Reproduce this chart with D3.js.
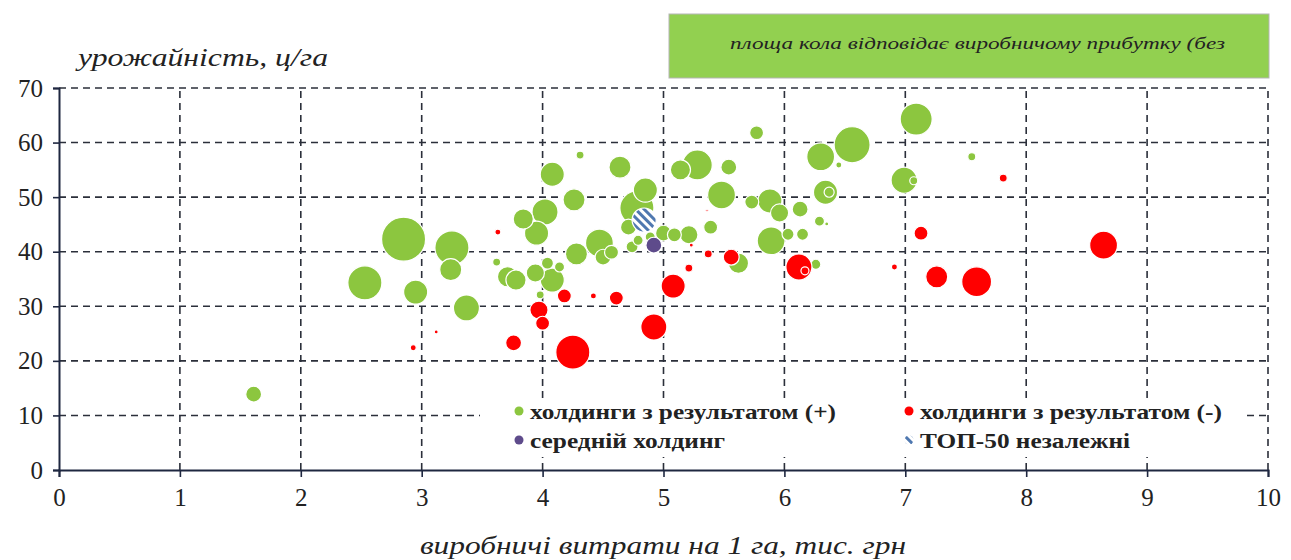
<!DOCTYPE html>
<html>
<head>
<meta charset="utf-8">
<script src="https://cdn.jsdelivr.net/npm/d3@7"></script>
<style>
  body { margin: 0; background: #fff; }
  svg { display: block; }
  text { font-family: "Liberation Serif", "Times New Roman", serif; fill: #222; }
</style>
</head>
<body>
<svg id="chart"></svg>
<script>
// chart data: [cost per ha (тис. грн), yield (ц/га), profit size]
const positive = [
  [1.61, 13.9, 13], [2.53, 34.3, 60], [2.85, 42.3, 100], [2.95, 32.6, 30], [3.25, 40.7, 60],
  [3.24, 36.7, 25], [3.37, 29.7, 35], [3.62, 38.1, 3.3], [3.71, 35.4, 21], [3.78, 34.8, 21],
  [3.84, 46.0, 21], [3.95, 43.4, 30], [4.02, 47.3, 35], [4.08, 54.2, 30], [3.94, 36.1, 17],
  [4.04, 37.9, 7.4], [4.14, 37.2, 5.2], [4.08, 34.8, 30], [3.98, 32.1, 3.3], [4.31, 57.7, 3.3],
  [4.26, 49.5, 25], [4.28, 39.6, 25], [4.47, 41.6, 40], [4.50, 39.0, 13], [4.57, 39.9, 10],
  [4.64, 55.5, 25], [4.78, 48.0, 60], [4.85, 51.3, 30], [4.71, 44.5, 13], [4.74, 40.9, 7.4],
  [4.79, 42.1, 5.2], [4.89, 42.7, 5.2], [5.00, 43.4, 13], [5.09, 43.1, 10], [5.21, 43.1, 17],
  [5.14, 55.0, 21], [5.28, 55.9, 46], [5.54, 55.5, 13], [5.39, 44.5, 10], [5.48, 50.4, 40],
  [5.73, 49.1, 10], [5.88, 49.3, 30], [5.96, 47.1, 17], [6.13, 47.8, 13], [5.89, 42.0, 40],
  [6.03, 43.2, 7.4], [6.15, 43.2, 7.4], [5.62, 37.9, 21], [5.77, 61.8, 10], [6.26, 37.7, 5.2],
  [6.29, 45.6, 5.2], [6.35, 45.1, 0.8], [6.30, 57.4, 40], [6.45, 55.9, 1.9], [6.56, 59.6, 67],
  [6.34, 50.9, 30], [6.37, 50.9, 5.2], [6.99, 53.1, 35], [7.07, 53.0, 3.3], [7.09, 64.3, 53],
  [7.55, 57.4, 3.3]
];
const negative = [
  [2.93, 22.4, 1.9], [3.12, 25.3, 0.8], [3.63, 43.6, 1.9], [3.76, 23.3, 13], [3.97, 29.3, 17],
  [4.00, 26.9, 10], [4.18, 31.9, 10], [4.25, 21.6, 60], [4.42, 31.9, 1.9], [4.61, 31.5, 10],
  [4.92, 26.2, 35], [5.08, 33.7, 30], [5.21, 37.0, 3.3], [5.23, 41.2, 0.8], [5.37, 39.6, 3.3],
  [5.56, 39.0, 13], [5.36, 47.6, 0.3], [6.12, 37.2, 35], [6.17, 36.5, 3.3], [6.91, 37.2, 1.9],
  [7.13, 43.4, 10], [7.26, 35.4, 25], [7.59, 34.5, 46], [7.81, 53.5, 3.3], [8.64, 41.2, 40]
];
const average = [[4.92, 41.2, 13]];
const top50 = [[4.84, 45.8, 30]];

const xTicks = [0, 1, 2, 3, 4, 5, 6, 7, 8, 9, 10];
const yTicks = [0, 10, 20, 30, 40, 50, 60, 70];
const seriesNames = ['холдинги з результатом (+)', 'холдинги з результатом (-)', 'середній холдинг', 'ТОП-50 незалежні'];
const noteText = 'площа кола відповідає виробничому прибутку (без';
const xTitle = 'виробничі витрати на 1 га, тис. грн';
const yTitle = 'урожайність, ц/га';

const W = 1291, H = 560;
const svg = d3.select('#chart').attr('width', W).attr('height', H);

const x = d3.scaleLinear().domain([0, 10]).range([59, 1268]);
const y = d3.scaleLinear().domain([0, 70]).range([470, 88]);
const r = d3.scaleSqrt().domain([0, 100]).range([0, 22]);

const green = '#8cc63f', red = '#ff0000', purple = '#5e4b8b', stripe = '#4f78b0';

// hatch pattern for TOP-50
const defs = svg.append('defs');
const pat = defs.append('pattern')
  .attr('id', 'hatch')
  .attr('patternUnits', 'userSpaceOnUse')
  .attr('width', 6).attr('height', 6)
  .attr('patternTransform', 'rotate(-45)');
pat.append('rect').attr('width', 6).attr('height', 6).attr('fill', '#fff');
pat.append('rect').attr('width', 3).attr('height', 6).attr('fill', stripe);

// gridlines
const grid = svg.append('g').attr('stroke', '#2b2f3a').attr('stroke-width', 1.6).attr('stroke-dasharray', '7,5');
grid.selectAll('.vg').data(xTicks.slice(1)).join('line')
  .attr('x1', d => x(d)).attr('x2', d => x(d))
  .attr('y1', y(0)).attr('y2', y(70));
grid.selectAll('.hg').data(yTicks.slice(1)).join('line')
  .attr('x1', x(0)).attr('x2', x(10))
  .attr('y1', d => y(d)).attr('y2', d => y(d));

// legend background hides grid behind it
svg.append('rect').attr('x', 480).attr('y', 400).attr('width', 763).attr('height', 57).attr('fill', '#fff');

// axes
const xAxis = svg.append('g')
  .attr('transform', `translate(0,${y(0)})`)
  .call(d3.axisBottom(x).tickValues(xTicks).tickSize(7).tickPadding(11));
const yAxis = svg.append('g')
  .attr('transform', `translate(${x(0)},0)`)
  .call(d3.axisLeft(y).tickValues(yTicks).tickSize(6).tickPadding(10));
[xAxis, yAxis].forEach(a => {
  a.attr('font-size', null).attr('font-family', null);
  a.select('.domain').attr('stroke', '#1e2740').attr('stroke-width', 2);
  a.selectAll('.tick line').attr('stroke', '#1e2740').attr('stroke-width', 1.6);
  a.selectAll('.tick text').attr('font-size', 25).style('font-size', '25px').attr('fill', '#222');
});

// bubbles
function drawSeries(data, fill) {
  const sorted = data.slice().sort((a, b) => b[2] - a[2]);
  svg.append('g').selectAll('circle').data(sorted).join('circle')
    .attr('cx', d => x(d[0]))
    .attr('cy', d => y(d[1]))
    .attr('r', d => r(d[2]))
    .attr('fill', fill)
    .attr('stroke', '#fff')
    .attr('stroke-width', 1.2);
}
drawSeries(positive, green);
drawSeries(negative, red);
drawSeries(top50, 'url(#hatch)');
drawSeries(average, purple);

// legend
const legend = [
  { name: seriesNames[0], fill: green, lx: 519, ly: 411, w: 306 },
  { name: seriesNames[1], fill: red, lx: 909, ly: 411, w: 302 },
  { name: seriesNames[2], fill: purple, lx: 519, ly: 440, w: 195 },
  { name: seriesNames[3], fill: 'url(#hatch)', lx: 909, ly: 440, w: 210 }
];
const lg = svg.append('g');
lg.selectAll('circle').data(legend).join('circle')
  .attr('cx', d => d.lx).attr('cy', d => d.ly).attr('r', 4.5)
  .attr('fill', d => d.fill);
lg.selectAll('text').data(legend).join('text')
  .attr('x', d => d.lx + 11).attr('y', d => d.ly + 8)
  .attr('textLength', d => d.w).attr('lengthAdjust', 'spacingAndGlyphs')
  .style('font-size', '22px').style('font-weight', 'bold')
  .text(d => d.name);

// axis titles
svg.append('text')
  .attr('x', 78).attr('y', 66)
  .attr('textLength', 250).attr('lengthAdjust', 'spacingAndGlyphs')
  .style('font-size', '26px').style('font-style', 'italic').attr('fill', '#333')
  .text(yTitle);
svg.append('text')
  .attr('x', 420).attr('y', 554)
  .attr('textLength', 486).attr('lengthAdjust', 'spacingAndGlyphs')
  .style('font-size', '26px').style('font-style', 'italic').attr('fill', '#333')
  .text(xTitle);

// note box
svg.append('rect')
  .attr('x', 669).attr('y', 14).attr('width', 600).attr('height', 64)
  .attr('fill', '#92d050').attr('stroke', '#b5b5b5');
svg.append('text')
  .attr('x', 730).attr('y', 49)
  .attr('textLength', 495).attr('lengthAdjust', 'spacingAndGlyphs')
  .style('font-size', '17px').style('font-style', 'italic').attr('fill', '#1a1a1a')
  .text(noteText);
</script>
</body>
</html>
